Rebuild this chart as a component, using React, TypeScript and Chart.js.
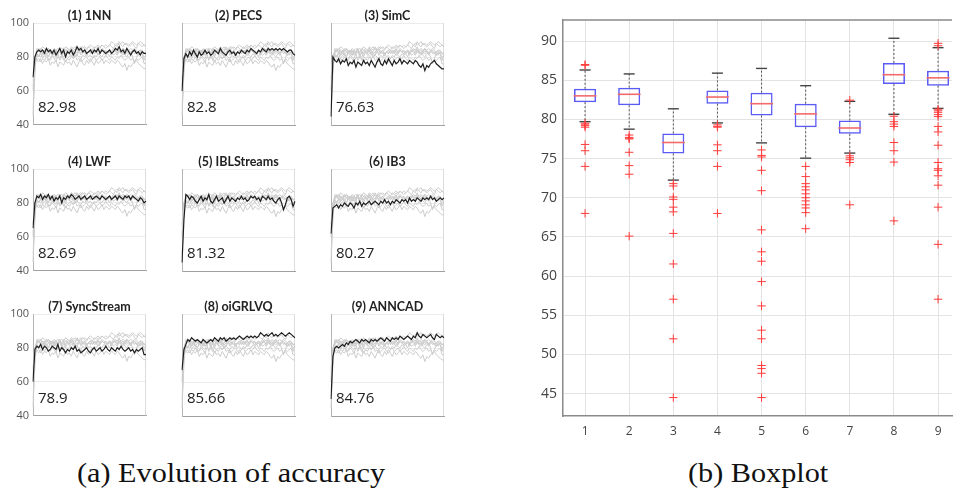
import React, { useEffect, useRef } from "react";
import { Chart, registerables } from "chart.js";

Chart.register(...registerables);
Chart.defaults.font.family = "'Open Sans', sans-serif";

// ---------- (a) Evolution of accuracy ----------
const panelTitles = [
  "(1) 1NN", "(2) PECS", "(3) SimC",
  "(4) LWF", "(5) IBLStreams", "(6) IB3",
  "(7) SyncStream", "(8) oiGRLVQ", "(9) ANNCAD",
];
const finalAccuracy = ["82.98", "82.8", "76.63", "82.69", "81.32", "80.27", "78.9", "85.66", "84.76"];
const panelYTicks = [40, 60, 80, 100];

const acc1NN = [
  68, 80, 83, 84, 83, 84, 82, 85, 83, 84,
  82, 84, 81, 83, 85, 82, 84, 80, 83, 82,
  84, 81, 83, 86, 84, 85, 83, 84, 82, 83,
  84, 82, 84, 83, 85, 82, 84, 83, 82, 83,
  84, 82, 83, 85, 84, 86, 83, 84, 82, 85,
  83, 81, 83, 84, 82, 83, 81, 83, 82, 82,
];
const accPECS = [
  60, 79, 82, 80, 83, 81, 84, 82, 80, 83,
  81, 82, 84, 82, 83, 81, 82, 84, 83, 82,
  85, 83, 82, 81, 83, 84, 82, 83, 81, 83,
  82, 84, 83, 82, 84, 83, 85, 84, 83, 82,
  84, 83, 85, 84, 83, 85, 84, 85, 84, 85,
  84, 85, 84, 85, 84, 83, 84, 84, 82, 81,
];
const accSimC = [
  45, 80, 78, 77, 79, 76, 78, 77, 79, 75,
  77, 76, 78, 74, 77, 76, 75, 78, 76, 77,
  75, 78, 76, 74, 77, 79, 76, 75, 78, 76,
  79, 77, 75, 78, 76, 77, 79, 76, 78, 77,
  76, 78, 77, 76, 78, 77, 75, 74, 76, 72,
  75, 74, 76, 77, 78, 76, 75, 74, 73, 73,
];
const accLWF = [
  65, 80, 84, 83, 85, 82, 84, 83, 85, 82,
  84, 81, 83, 82, 84, 80, 83, 82, 84, 83,
  85, 84, 82, 83, 84, 82, 83, 84, 82, 83,
  84, 82, 83, 84, 83, 82, 84, 83, 82, 83,
  84, 82, 83, 84, 82, 84, 83, 82, 84, 83,
  84, 82, 84, 83, 82, 81, 83, 82, 80, 81,
];
const accIBLStreams = [
  45, 70, 85, 84, 82, 84, 83, 81, 80, 82,
  84, 81, 83, 82, 85, 81, 80, 82, 84, 81,
  82, 83, 80, 82, 84, 81, 83, 82, 81, 83,
  82, 84, 82, 83, 81, 82, 84, 83, 84, 82,
  83, 81, 84, 83, 82, 84, 82, 83, 81, 80,
  82, 83, 80, 76, 79, 83, 84, 82, 78, 81,
];
const accIB3 = [
  62, 77, 78, 79, 77, 79, 78, 80, 79, 78,
  80, 79, 77, 80, 79, 81, 78, 80, 79, 80,
  81, 79, 80, 81, 80, 79, 81, 80, 82, 80,
  81, 79, 81, 80, 82, 81, 80, 82, 81, 82,
  80, 83, 81, 82, 81, 83, 82, 81, 83, 82,
  83, 82, 84, 82, 83, 81, 82, 83, 82, 83,
];
const accSyncStream = [
  60, 79, 81, 80, 82, 79, 81, 80, 78, 79,
  81, 80, 79, 82, 78, 80, 79, 77, 79, 78,
  80, 79, 81, 78, 79, 77, 78, 79, 80, 78,
  77, 79, 80, 78, 79, 80, 78, 79, 81, 79,
  78, 80, 79, 78, 80, 79, 81, 79, 78, 79,
  80, 78, 79, 77, 79, 78, 79, 80, 76, 76,
];
const accOiGRLVQ = [
  67, 79, 82, 85, 84, 86, 85, 84, 85, 84,
  83, 85, 84, 83, 84, 85, 84, 86, 85, 84,
  86, 85, 86, 84, 85, 86, 85, 86, 85, 86,
  87, 86, 85, 86, 87, 86, 87, 86, 87, 86,
  87, 89, 88, 87, 88, 87, 88, 89, 87, 88,
  87, 88, 89, 88, 87, 88, 89, 88, 87, 86,
];
const accANNCAD = [
  50, 75, 80, 81, 80, 81, 82, 81, 83, 82,
  84, 83, 84, 85, 84, 83, 85, 84, 85, 84,
  83, 85, 84, 85, 84, 85, 86, 85, 84, 86,
  85, 84, 86, 85, 86, 85, 87, 86, 85, 86,
  87, 86, 85, 87, 86, 89, 87, 86, 88, 87,
  86, 87, 88, 86, 85, 88, 87, 86, 87, 86,
];
const accuracySeries = [
  acc1NN, accPECS, accSimC, accLWF, accIBLStreams, accIB3, accSyncStream, accOiGRLVQ, accANNCAD,
];

// ---------- (b) Boxplot ----------
const boxLabels = [1, 2, 3, 4, 5, 6, 7, 8, 9];
const boxYTicks = [45, 50, 55, 60, 65, 70, 75, 80, 85, 90];
const boxQ1 = [82.2, 81.8, 75.65, 82.0, 80.5, 79.0, 78.15, 84.5, 84.3];
const boxMedian = [83.0, 83.2, 77.05, 82.85, 82.0, 80.7, 78.9, 85.7, 85.3];
const boxQ3 = [83.9, 84.05, 78.2, 83.7, 83.4, 82.0, 79.85, 87.2, 86.2];
const whiskerLow = [79.7, 78.75, 72.25, 79.55, 77.0, 75.05, 75.7, 80.65, 81.4];
const whiskerHigh = [86.3, 85.8, 81.35, 85.9, 86.5, 84.3, 82.3, 90.35, 89.15];
const outliers = [
  [86.9, 87.0, 79.5, 79.3, 79.2, 79.0, 76.8, 76.0, 74.0, 68.0],
  [78.0, 77.7, 77.6, 77.5, 75.8, 74.1, 73.0, 65.1],
  [71.8, 71.5, 70.1, 69.8, 68.8, 68.2, 65.45, 61.55, 57.05, 52.0, 44.5],
  [79.3, 79.1, 79.0, 76.75, 76.0, 74.0, 68.0],
  [76.1, 75.4, 75.2, 73.5, 70.9, 65.9, 63.1, 61.9, 59.3, 56.2, 53.1, 52.0, 48.6, 48.2, 47.6, 44.5],
  [74.0, 72.7, 71.8, 71.4, 71.0, 70.5, 70.0, 69.6, 69.1, 68.7, 68.1, 66.05],
  [82.45, 75.35, 75.1, 74.85, 74.5, 69.1],
  [80.4, 79.7, 79.4, 79.1, 77.05, 76.0, 74.55, 67.05],
  [89.7, 89.4, 81.3, 81.1, 80.9, 80.6, 80.35, 79.1, 78.4, 76.7, 74.5, 73.7, 73.5, 72.8, 71.6, 68.8, 64.05, 57.05],
];

// ---------- layout ----------
const PANEL_LEFTS = [33, 182, 331];
const PANEL_TOPS = [23, 169, 314];
const PLOT_W = 113;
const PLOT_H = 102;
const AXIS_W = 34;
const HEAD_H = 21;
const PAD_R = 6;
const PAD_B = 10;

const framePlugin = {
  id: "panelFrame",
  beforeDatasetsDraw(chart: any) {
    const { ctx, chartArea } = chart;
    ctx.save();
    ctx.strokeStyle = "#dcdcdc";
    ctx.lineWidth = 1;
    ctx.beginPath();
    ctx.moveTo(Math.round(chartArea.right) - 0.5, chartArea.top);
    ctx.lineTo(Math.round(chartArea.right) - 0.5, chartArea.bottom);
    ctx.stroke();
    ctx.restore();
  },
};

function Panel({ idx }: { idx: number }) {
  const ref = useRef<HTMLCanvasElement>(null);
  const col = idx % 3;
  const row = Math.floor(idx / 3);
  const width = AXIS_W + PLOT_W + PAD_R;
  const height = HEAD_H + PLOT_H + PAD_B;
  useEffect(() => {
    const valuePlugin = {
      id: "finalValue",
      afterDatasetsDraw(chart: any) {
        const { ctx, chartArea, scales } = chart;
        ctx.save();
        ctx.font = "15px 'Open Sans', sans-serif";
        ctx.fillStyle = "#222";
        ctx.textBaseline = "middle";
        ctx.textAlign = "left";
        ctx.fillText(finalAccuracy[idx], chartArea.left + 5, scales.y.getPixelForValue(50));
        ctx.restore();
      },
    };
    const main = accuracySeries[idx];
    const others = accuracySeries.filter((_, j) => j !== idx);
    const chart = new Chart(ref.current!, {
      type: "line",
      data: {
        labels: main.map((_, i) => i),
        datasets: [
          { data: main, borderColor: "#1e1e1e", borderWidth: 1.2, pointRadius: 0, tension: 0 },
          ...others.map((s) => ({ data: s, borderColor: "#cdcdcd", borderWidth: 1, pointRadius: 0, tension: 0 })),
        ],
      },
      options: {
        animation: false,
        responsive: false,
        events: [],
        layout: { padding: { top: 0, right: PAD_R, bottom: PAD_B, left: 0 } },
        plugins: {
          legend: { display: false },
          tooltip: { enabled: false },
          title: {
            display: true,
            fullSize: false,
            text: panelTitles[idx],
            color: "#222",
            font: { size: 12.5, weight: "bold", family: "Lato, sans-serif", lineHeight: 1.2 },
            padding: { top: HEAD_H - 15, bottom: 0 },
          },
        },
        scales: {
          x: {
            ticks: { display: false },
            grid: { display: false, drawTicks: false },
            border: { color: "#a0a0a0" },
            afterFit: (s: any) => { s.height = 0; },
          },
          y: {
            min: 40,
            max: 100,
            afterBuildTicks: (s: any) => { s.ticks = panelYTicks.map((v) => ({ value: v })); },
            ticks: { display: col === 0, padding: 4, color: "#555", font: { size: 11 } },
            grid: { color: "#ececec", drawTicks: false },
            border: { color: "#b4b4b4" },
            afterFit: (s: any) => { s.width = AXIS_W; },
          },
        },
      } as any,
      plugins: [framePlugin, valuePlugin],
    });
    return () => chart.destroy();
  }, [idx]);
  return (
    <canvas
      ref={ref}
      width={width}
      height={height}
      style={{
        position: "absolute",
        left: PANEL_LEFTS[col] - AXIS_W,
        top: PANEL_TOPS[row] - HEAD_H,
        width,
        height,
      }}
    />
  );
}

const BOX_LEFT = 520;
const BOX_W = 445;
const BOX_H = 446;

const topBorderPlugin = {
  id: "topBorder",
  afterDraw(chart: any) {
    const { ctx, chartArea } = chart;
    ctx.save();
    ctx.strokeStyle = "#8a8a8a";
    ctx.lineWidth = 1.5;
    ctx.beginPath();
    ctx.moveTo(chartArea.left, chartArea.top);
    ctx.lineTo(chartArea.right, chartArea.top);
    ctx.stroke();
    ctx.restore();
  },
};

function BoxPlot() {
  const ref = useRef<HTMLCanvasElement>(null);
  useEffect(() => {
    const whiskerPts: any[] = [];
    boxLabels.forEach((x, i) => {
      whiskerPts.push({ x, y: boxQ3[i] }, { x, y: whiskerHigh[i] }, { x, y: null });
      whiskerPts.push({ x, y: boxQ1[i] }, { x, y: whiskerLow[i] }, { x, y: null });
    });
    const capPts = boxLabels.flatMap((x, i) => [{ x, y: whiskerHigh[i] }, { x, y: whiskerLow[i] }]);
    const outlierPts = outliers.flatMap((arr, i) => arr.map((y) => ({ x: boxLabels[i], y })));
    const chart = new Chart(ref.current!, {
      type: "bar",
      data: {
        datasets: [
          {
            type: "scatter",
            data: boxLabels.map((x, i) => ({ x, y: boxMedian[i] })),
            pointStyle: "line",
            pointRadius: 11.4,
            pointBorderColor: "#f26a6a",
            pointBorderWidth: 1.6,
            showLine: false,
          },
          {
            type: "scatter",
            data: outlierPts,
            pointStyle: "cross",
            pointRadius: 4.2,
            pointBorderColor: "#ff3c3c",
            pointBorderWidth: 1,
            showLine: false,
          },
          {
            type: "scatter",
            data: capPts,
            pointStyle: "line",
            pointRadius: 5.5,
            pointBorderColor: "#444",
            pointBorderWidth: 1.4,
            showLine: false,
          },
          {
            type: "scatter",
            data: whiskerPts,
            showLine: true,
            spanGaps: false,
            borderColor: "#555",
            borderWidth: 1,
            borderDash: [2, 2],
            pointRadius: 0,
          },
          {
            type: "bar",
            data: boxLabels.map((x, i) => ({ x, y: [boxQ1[i], boxQ3[i]] })),
            backgroundColor: "rgba(0,0,0,0)",
            borderColor: "#5a5af5",
            borderWidth: 1.5,
            borderSkipped: false,
            barPercentage: 0.5,
            categoryPercentage: 1,
          },
        ],
      } as any,
      options: {
        animation: false,
        responsive: false,
        events: [],
        layout: { padding: { top: 20, right: 0, bottom: 0, left: 0 } },
        plugins: { legend: { display: false }, tooltip: { enabled: false } },
        scales: {
          x: {
            type: "linear",
            min: 0.5,
            max: 9.316,
            offset: false,
            afterBuildTicks: (s: any) => { s.ticks = boxLabels.map((v) => ({ value: v })); },
            ticks: { padding: 8, color: "#444", font: { size: 12 } },
            grid: { color: "#e3e3e3", drawTicks: false, offset: false },
            border: { color: "#8a8a8a", width: 1.5 },
            afterFit: (s: any) => { s.height = 30; },
          },
          y: {
            type: "linear",
            min: 42.15,
            max: 92.68,
            afterBuildTicks: (s: any) => { s.ticks = boxYTicks.map((v) => ({ value: v })); },
            ticks: { padding: 6, color: "#444", font: { size: 14 } },
            grid: { color: "#e3e3e3", drawTicks: false },
            border: { color: "#8a8a8a", width: 1.5 },
            afterFit: (s: any) => { s.width = 43; },
          },
        },
      } as any,
      plugins: [topBorderPlugin],
    });
    return () => chart.destroy();
  }, []);
  return (
    <canvas
      ref={ref}
      width={BOX_W}
      height={BOX_H}
      style={{ position: "absolute", left: BOX_LEFT, top: 0, width: BOX_W, height: BOX_H }}
    />
  );
}

const captionStyle: React.CSSProperties = {
  position: "absolute",
  top: 456,
  fontFamily: "'Liberation Serif', serif",
  fontSize: 28,
  lineHeight: "34px",
  color: "#111",
  whiteSpace: "nowrap",
  transformOrigin: "left top",
  transform: "scaleX(1.08)",
};

export default function App() {
  return (
    <div
      style={{
        position: "fixed",
        left: 0,
        top: 0,
        width: 965,
        height: 494,
        background: "#fff",
        overflow: "hidden",
      }}
    >
      {panelTitles.map((_, i) => (
        <Panel key={i} idx={i} />
      ))}
      <BoxPlot />
      <div style={{ ...captionStyle, left: 77 }}>(a) Evolution of accuracy</div>
      <div style={{ ...captionStyle, left: 688 }}>(b) Boxplot</div>
    </div>
  );
}
